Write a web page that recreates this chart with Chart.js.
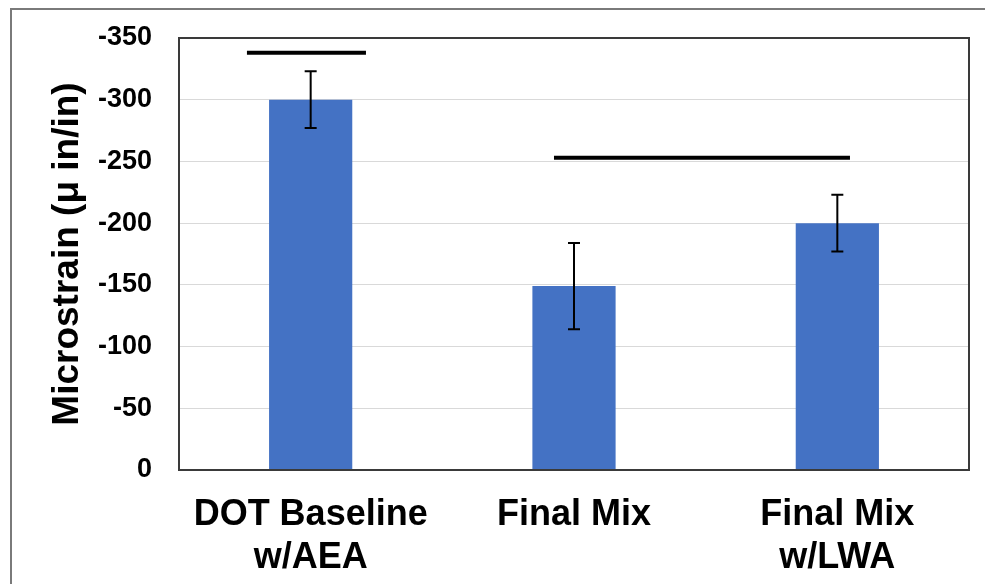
<!DOCTYPE html>
<html>
<head>
<meta charset="utf-8">
<script src="https://cdn.jsdelivr.net/npm/chart.js@4/dist/chart.umd.min.js"></script>
<style>
  html, body { margin: 0; padding: 0; background: #ffffff; }
  canvas { display: block; }
</style>
</head>
<body>
<canvas id="chart" width="985" height="584"></canvas>
<script>
// Shrinkage microstrain per mix, with standard deviation
const categories = [["DOT Baseline", "w/AEA"], "Final Mix", ["Final Mix", "w/LWA"]];
const microstrain = [-300, -149, -200];
const stdDev = [23, 35, 23];
const yTicks = [-350, -300, -250, -200, -150, -100, -50, 0];

// Grouping bars (statistically similar groups), in fractional category positions
const groupA = [{ x: -0.242, y: -338 }, { x: 0.21, y: -338 }];
const groupB = [{ x: 0.924, y: -253 }, { x: 2.048, y: -253 }];

const FONT = "'Liberation Sans', Arial, Helvetica, sans-serif";

const framePlugin = {
  id: 'frame',
  beforeDraw(chart) {
    const ctx = chart.ctx;
    ctx.save();
    ctx.fillStyle = '#ffffff';
    ctx.fillRect(0, 0, chart.width, chart.height);
    ctx.strokeStyle = '#7a7a7a';
    ctx.lineWidth = 2;
    ctx.strokeRect(11, 9, chart.width + 20, chart.height + 20);
    ctx.restore();
  },
  afterDraw(chart) {
    const a = chart.chartArea;
    const ctx = chart.ctx;
    ctx.save();
    ctx.strokeStyle = '#3a3a3a';
    ctx.lineWidth = 2;
    ctx.strokeRect(a.left, a.top, a.right - a.left, a.bottom - a.top);
    ctx.restore();
  }
};

const errorBarPlugin = {
  id: 'errorBars',
  afterDatasetsDraw(chart) {
    const meta = chart.getDatasetMeta(0);
    const y = chart.scales.y;
    const ctx = chart.ctx;
    ctx.save();
    ctx.strokeStyle = '#000000';
    ctx.lineWidth = 2;
    meta.data.forEach((bar, i) => {
      const v = microstrain[i];
      const e = stdDev[i];
      const yTop = y.getPixelForValue(v - e);
      const yBot = y.getPixelForValue(v + e);
      const x = bar.x;
      ctx.beginPath();
      ctx.moveTo(x, yTop); ctx.lineTo(x, yBot);
      ctx.moveTo(x - 6, yTop); ctx.lineTo(x + 6, yTop);
      ctx.moveTo(x - 6, yBot); ctx.lineTo(x + 6, yBot);
      ctx.stroke();
    });
    ctx.restore();
  }
};

new Chart(document.getElementById('chart'), {
  type: 'bar',
  data: {
    labels: categories,
    datasets: [
      {
        type: 'bar',
        data: microstrain,
        backgroundColor: '#4472C4',
        borderWidth: 0,
        grouped: false,
        categoryPercentage: 1,
        barPercentage: 0.316,
        order: 2
      },
      {
        type: 'line',
        xAxisID: 'x2',
        data: groupA,
        borderColor: '#000000',
        borderWidth: 4,
        pointRadius: 0,
        fill: false,
        order: 1
      },
      {
        type: 'line',
        xAxisID: 'x2',
        data: groupB,
        borderColor: '#000000',
        borderWidth: 4,
        pointRadius: 0,
        fill: false,
        order: 1
      }
    ]
  },
  options: {
    responsive: false,
    animation: false,
    layout: { padding: { top: 38, right: 16, left: 0, bottom: 0 } },
    plugins: {
      legend: { display: false },
      tooltip: { enabled: false }
    },
    scales: {
      x: {
        type: 'category',
        offset: true,
        grid: { display: false, drawTicks: false },
        border: { display: false },
        ticks: {
          color: '#000000',
          padding: 23,
          maxRotation: 0,
          autoSkip: false,
          font: { family: FONT, size: 36, weight: 'bold', lineHeight: 1.2 }
        },
        afterFit(scale) { scale.height = 114; }
      },
      x2: {
        type: 'linear',
        display: false,
        offset: false,
        min: -0.5,
        max: 2.5
      },
      y: {
        reverse: true,
        min: -350,
        max: 0,
        afterBuildTicks(scale) { scale.ticks = yTicks.map(v => ({ value: v })); },
        grid: { color: '#d9d9d9', lineWidth: 1, drawTicks: false },
        border: { display: false },
        ticks: {
          color: '#000000',
          padding: 27,
          font: { family: FONT, size: 27, weight: 'bold' }
        },
        title: {
          display: true,
          text: 'Microstrain (μ in/in)',
          color: '#000000',
          padding: { top: 46, bottom: 0 },
          font: { family: FONT, size: 37, weight: 'bold' }
        },
        afterFit(scale) {
          scale.width = 179;
          scale.paddingTop = 0;
          scale.paddingBottom = 0;
        }
      }
    }
  },
  plugins: [framePlugin, errorBarPlugin]
});
</script>
</body>
</html>
